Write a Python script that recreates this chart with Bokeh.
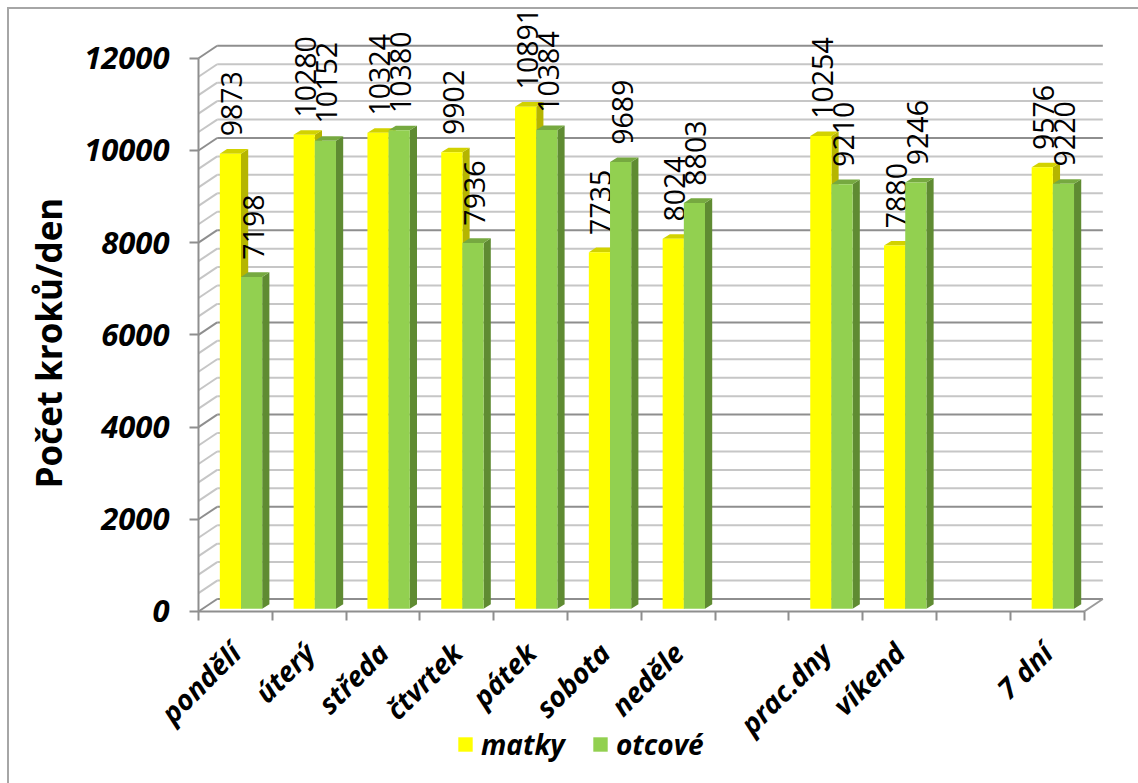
import math
from bokeh.plotting import figure
from bokeh.models import Range1d, FixedTicker, Legend, LegendItem, Title
from bokeh.core.properties import value
from bokeh.embed import file_html
from bokeh.resources import INLINE

# ---------------- data ----------------
categories = ["pondělí", "úterý", "středa", "čtvrtek", "pátek", "sobota", "neděle",
              "", "prac.dny", "víkend", "", "7 dní"]
matky = [9873, 10280, 10324, 9902, 10891, 7735, 8024, None, 10254, 7880, None, 9576]
otcove = [7198, 10152, 10380, 7936, 10384, 9689, 8803, None, 9210, 9246, None, 9220]
series_names = ["matky", "otcové"]
y_ticks = [0, 2000, 4000, 6000, 8000, 10000, 12000]
y_title = "Počet kroků/den"

# ---------------- style / geometry ----------------
FONT = "Open Sans"
YELLOW = ("#ffff00", "#b5b500", "#d2d200")   # front, side, top
GREEN = ("#92d050", "#5f8b32", "#76a940")
GRID_MINOR = "#c6c6c6"
GRID_MAJOR = "#8e8e8e"
EDGE = "#9a9a9a"

n = len(categories)
DX, DY = 0.2534, 271        # depth of the 3-D box (data units)
BDX, BDY = 0.0976, 100      # depth of each bar
BAR_W = 0.287
BAR_X0 = 0.289
BASE = 58.6
GRID_STEP = 400
YMAX = 12000
LABEL_GAP = 375

p = figure(width=1138, height=783, output_backend="svg", toolbar_location=None,
           x_range=Range1d(-1.653, 12.425), y_range=Range1d(-3731, 13058),
           min_border_left=76, min_border_right=23, min_border_top=9,
           min_border_bottom=0, title=None)
p.outline_line_color = None
p.background_fill_color = "white"
p.border_fill_color = None
p.styles = {"background": "linear-gradient(#a6a6a6, #a6a6a6) 7px 7px / 2px 100% no-repeat, "
                          "linear-gradient(#a6a6a6, #a6a6a6) 7px 7px / 100% 2px no-repeat, #ffffff"}
p.xgrid.visible = False
p.ygrid.visible = False

# ---------------- walls ----------------
grid_vals = list(range(0, YMAX + 1, GRID_STEP))
for vals, col in (([v for v in grid_vals if v % 2000], GRID_MINOR),
                  ([v for v in grid_vals if v % 2000 == 0], GRID_MAJOR)):
    k = len(vals)
    p.segment(x0=[DX] * k, y0=[v + DY for v in vals], x1=[n + DX] * k,
              y1=[v + DY for v in vals], line_color=col, line_width=2)
    p.segment(x0=[0] * k, y0=vals, x1=[DX] * k, y1=[v + DY for v in vals],
              line_color=col, line_width=2)

# floor right edge
p.segment(x0=[n], y0=[0], x1=[n + DX], y1=[DY], line_color=EDGE, line_width=2)

# ---------------- bars ----------------
def draw_series(vals, x_off, colors):
    idx = [i for i, v in enumerate(vals) if v is not None]
    xl = [i + x_off for i in idx]
    xr = [x + BAR_W for x in xl]
    top = [BASE + vals[i] for i in idx]
    side_xs = [[r, r + BDX, r + BDX, r] for r in xr]
    side_ys = [[BASE, BASE + BDY, t + BDY, t] for t in top]
    top_xs = [[l, r, r + BDX, l + BDX] for l, r in zip(xl, xr)]
    top_ys = [[t, t, t + BDY, t + BDY] for t in top]
    p.patches(side_xs, side_ys, fill_color=colors[1], line_color=None)
    p.patches(top_xs, top_ys, fill_color=colors[2], line_color=None)
    r = p.quad(left=xl, right=xr, bottom=[BASE] * len(idx), top=top,
               fill_color=colors[0], line_color=None)
    p.text(x=[l + BAR_W / 2 + 0.02 for l in xl], y=[t + LABEL_GAP for t in top],
           text=[str(vals[i]) for i in idx], angle=math.pi / 2,
           text_align="left", text_baseline="middle", text_color="black",
           text_font=value(FONT), text_font_size="28.5px")
    return r

r_m = draw_series(matky, BAR_X0, YELLOW)
r_o = draw_series(otcove, BAR_X0 + BAR_W, GREEN)

# front axis lines
p.segment(x0=[0, 0], y0=[0, 0], x1=[n, 0], y1=[0, YMAX], line_color=GRID_MAJOR, line_width=2)

# ---------------- axes ----------------
yax = p.yaxis[0]
yax.fixed_location = 0
yax.ticker = FixedTicker(ticks=y_ticks, minor_ticks=[])
yax.axis_line_color = None
yax.major_tick_out = 9
yax.major_tick_in = 0
yax.major_tick_line_color = GRID_MAJOR
yax.major_tick_line_width = 2
yax.major_label_text_font = FONT
yax.major_label_text_font_style = "bold italic"
yax.major_label_text_font_size = "31px"
yax.major_label_text_color = "black"
yax.major_label_standoff = 20

xax = p.xaxis[0]
xax.fixed_location = 0
centers = [i + 0.5 for i, c in enumerate(categories) if c]
xax.ticker = FixedTicker(ticks=centers, minor_ticks=list(range(n + 1)))
xax.major_label_overrides = {i + 0.5: c for i, c in enumerate(categories) if c}
xax.major_label_orientation = math.pi / 4
xax.axis_line_color = None
xax.major_tick_line_color = None
xax.major_tick_out = 0
xax.major_tick_in = 0
xax.minor_tick_line_color = GRID_MAJOR
xax.minor_tick_line_width = 2
xax.minor_tick_out = 9
xax.minor_tick_in = 0
xax.major_label_text_font = FONT
xax.major_label_text_font_style = "bold italic"
xax.major_label_text_font_size = "28px"
xax.major_label_text_color = "black"
xax.major_label_standoff = 27

p.add_layout(Title(text=y_title, align="left", offset=295, text_font=FONT,
                   text_font_style="bold", text_font_size="35px",
                   text_color="black"), "left")

legend = Legend(items=[LegendItem(label=value(series_names[0]), renderers=[r_m]),
                       LegendItem(label=value(series_names[1]), renderers=[r_o])],
                orientation="horizontal", location=(380, 20),
                glyph_width=18, glyph_height=18, label_standoff=7, spacing=26,
                label_text_font=FONT, label_text_font_style="bold italic",
                label_text_font_size="28px", label_text_color="black",
                border_line_color=None, background_fill_alpha=0, padding=0, margin=0)
p.add_layout(legend, "center")

open("out.html", "w").write(file_html(p, INLINE))
